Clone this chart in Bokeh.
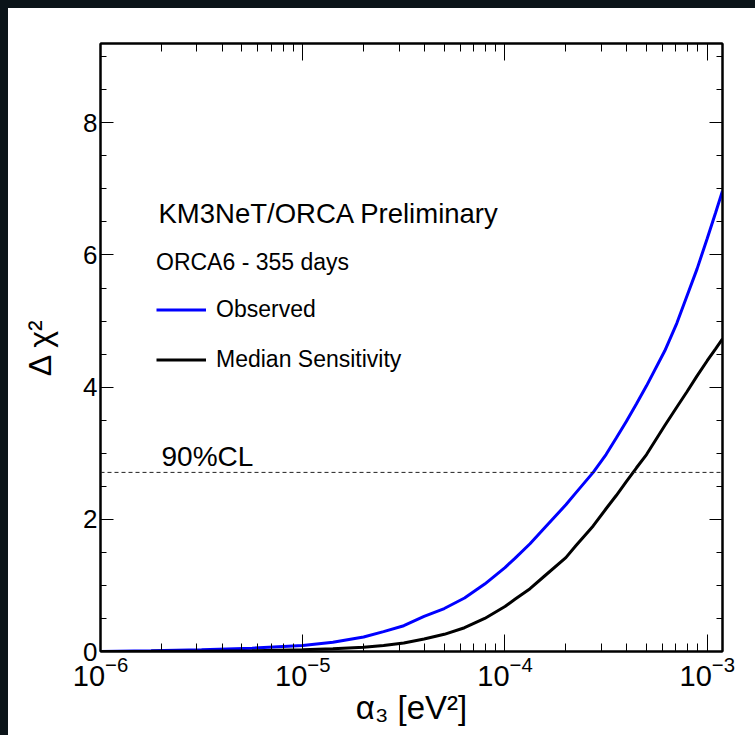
from bokeh.plotting import figure
from bokeh.models import (Range1d, LogAxis, LinearAxis, SingleIntervalTicker, LogTicker,
                          Span, Label, Legend, LegendItem)
from bokeh.embed import file_html
from bokeh.resources import INLINE

# ---------------- data ----------------
alpha3 = [1e-6, 1.78e-6, 3.16e-6, 5.62e-6, 1e-5, 1.41e-5, 2e-5, 2.51e-5, 3.16e-5,
          3.98e-5, 5.01e-5, 6.31e-5, 7.94e-5, 1e-4, 1.12e-4, 1.33e-4, 1.58e-4, 2e-4,
          2.24e-4, 2.73e-4, 3.16e-4, 3.55e-4, 3.98e-4, 4.47e-4, 5.01e-4, 6.17e-4,
          7.08e-4, 7.94e-4, 8.91e-4, 1e-3, 1.1e-3, 1.19e-3]
observed = [0.0, 0.01, 0.025, 0.05, 0.09, 0.14, 0.22, 0.30, 0.39,
            0.53, 0.65, 0.81, 1.02, 1.27, 1.41, 1.63, 1.88, 2.22,
            2.40, 2.71, 2.98, 3.23, 3.48, 3.75, 4.02, 4.55,
            4.97, 5.38, 5.79, 6.25, 6.64, 6.97]
median_sens = [0.0, 0.002, 0.005, 0.012, 0.025, 0.04, 0.065, 0.09, 0.13,
               0.19, 0.26, 0.36, 0.50, 0.68, 0.79, 0.95, 1.15, 1.42,
               1.60, 1.90, 2.16, 2.36, 2.57, 2.78, 2.98, 3.42,
               3.70, 3.93, 4.17, 4.40, 4.58, 4.73]
cl90 = 2.71
x_limits = (1e-6, 1.19e-3)
y_limits = (0, 9.2)

FONT = "Liberation Sans"

p = figure(width=747, height=727, x_axis_type="log",
           x_range=Range1d(*x_limits), y_range=Range1d(*y_limits),
           output_backend="svg", toolbar_location=None,
           min_border_left=92, min_border_right=33, min_border_top=35, min_border_bottom=84,
           background_fill_color="white", border_fill_color="white")
p.xgrid.visible = False
p.ygrid.visible = False
p.outline_line_color = "black"
p.outline_line_width = 2

r_obs = p.line(alpha3, observed, line_color="#0000ff", line_width=3)
r_med = p.line(alpha3, median_sens, line_color="black", line_width=3)

p.add_layout(Span(location=cl90, dimension="width", line_color="#222222",
                  line_width=1, line_dash="4 3"))

# extra axes (ticks only)
top_ax = LogAxis(ticker=LogTicker(num_minor_ticks=10))
right_ax = LinearAxis(ticker=SingleIntervalTicker(interval=2, num_minor_ticks=4))
p.add_layout(top_ax, "above")
p.add_layout(right_ax, "right")

bx = p.below[0]
ly = p.left[0]
bx.ticker = LogTicker(num_minor_ticks=10)
ly.ticker = SingleIntervalTicker(interval=2, num_minor_ticks=4)

for ax in (bx, ly, top_ax, right_ax):
    ax.axis_line_color = "black"
    ax.axis_line_width = 2
    ax.major_tick_out = 0
    ax.minor_tick_out = 0
    ax.major_tick_line_color = "black"
    ax.minor_tick_line_color = "black"
    ax.major_tick_line_width = 1
    ax.minor_tick_line_width = 1
for ax in (bx, top_ax):
    ax.major_tick_in = 17
    ax.minor_tick_in = 8
for ax in (ly, right_ax):
    ax.major_tick_in = 13
    ax.minor_tick_in = 6
for ax in (top_ax, right_ax):
    ax.major_label_text_color = None
    ax.major_label_text_font_size = "1px"
    ax.major_label_standoff = 0

bx.major_label_text_font = FONT
bx.major_label_text_font_size = "29px"
bx.major_label_text_color = "black"
bx.major_label_standoff = 4
bx.axis_label = "α₃ [eV²]"
bx.axis_label_text_font = FONT
bx.axis_label_text_font_size = "33px"
bx.axis_label_text_font_style = "normal"
bx.axis_label_text_color = "black"
bx.axis_label_standoff = 0

ly.major_label_text_font = FONT
ly.major_label_text_font_size = "26px"
ly.major_label_text_color = "black"
ly.major_label_standoff = 3
ly.axis_label = "Δ χ²"
ly.axis_label_text_font = FONT
ly.axis_label_text_font_size = "32px"
ly.axis_label_text_font_style = "normal"
ly.axis_label_text_color = "black"
ly.axis_label_standoff = 22

p.add_layout(Label(x=58, y=438, x_units="screen", y_units="screen",
                   text="KM3NeT/ORCA Preliminary", text_font=FONT,
                   text_font_size="27.5px", text_color="black", text_baseline="alphabetic"))
p.add_layout(Label(x=61, y=195, x_units="screen", y_units="screen",
                   text="90%CL", text_font=FONT,
                   text_font_size="28px", text_color="black", text_baseline="alphabetic"))

legend = Legend(items=[LegendItem(label="Observed", renderers=[r_obs]),
                       LegendItem(label="Median Sensitivity", renderers=[r_med])],
                location=(56, 278), title="ORCA6 - 355 days")
legend.title_text_font = FONT
legend.title_text_font_size = "23px"
legend.title_text_font_style = "normal"
legend.title_text_color = "black"
legend.title_standoff = 20
legend.label_text_font = FONT
legend.label_text_font_size = "23px"
legend.label_text_color = "black"
legend.glyph_width = 50
legend.glyph_height = 25
legend.label_height = 25
legend.label_standoff = 10
legend.spacing = 23
legend.padding = 10
legend.margin = 0
legend.border_line_color = None
legend.background_fill_color = "white"
legend.background_fill_alpha = 1.0
p.add_layout(legend)

html = file_html(p, INLINE, title="KM3NeT/ORCA")
style = ("<style>html{background-color:#ffffff !important;"
         "background-image:linear-gradient(#0b1419,#0b1419),linear-gradient(#0b1419,#0b1419) !important;"
         "background-size:3000px 8px,8px 3000px !important;"
         "background-repeat:no-repeat !important;background-position:0 0,0 0 !important;}"
         "body{margin:8px 0 0 8px !important;height:auto !important;"
         "background:transparent !important;}</style>")
html = html.replace("</head>", style + "</head>", 1)
open("out.html", "w").write(html)
